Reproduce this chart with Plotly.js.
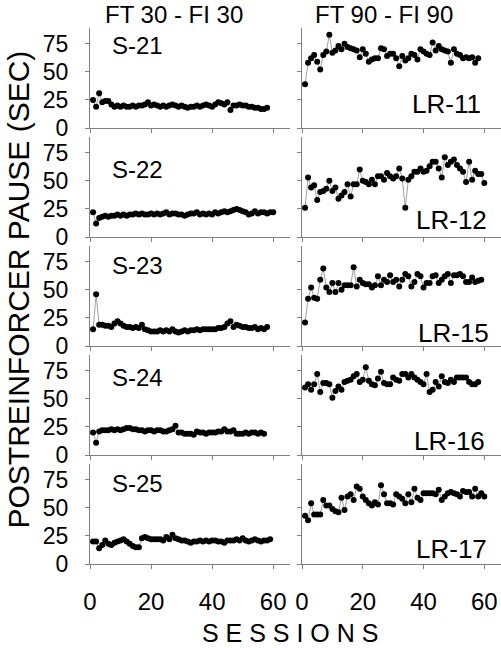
<!DOCTYPE html>
<html>
<head>
<meta charset="utf-8">
<script src="https://cdn.plot.ly/plotly-3.0.1.min.js"></script>
<style>
  html, body { margin: 0; padding: 0; background: #fff; }
  #chart { width: 501px; height: 648px; }
</style>
</head>
<body>
<div id="chart"></div>
<script>
// left column: FT 30 - FI 30
var s21 = [25,19,31,23,24,24,21,19,20,19, 20,19,19,20,19,20,20,21,23,20, 21,20,19,20,19,20,21,20,19,20, 19,18,19,19,20,19,20,21,20,19, 21,23,22,21,23,16,20,20,21,20, 20,19,19,18,18,17,17,18];
var s22 = [22,12,17,18,19,18,19,19,20,19, 20,19,20,20,21,20,21,20,20,21, 20,21,20,21,22,20,21,21,20,20, 19,20,21,21,22,20,21,20,21,20, 22,21,22,23,22,23,24,25,24,23, 22,20,21,23,21,22,22,21,22,22];
var s23 = [15,46,19,19,18,18,17,20,22,20, 18,17,17,16,17,16,19,15,14,13, 13,13,14,13,14,13,15,13,12,13, 14,13,14,14,15,14,15,15,15,15, 15,16,16,17,20,22,17,19,18,17, 17,16,16,17,15,16,15,17];
var s24 = [20,11,21,22,22,22,23,22,23,22, 23,24,24,23,23,22,22,21,22,22, 21,22,22,21,21,22,23,26,20,20, 19,19,19,18,21,20,20,19,20,20, 20,21,21,23,21,21,22,19,19,19, 20,19,20,20,19,20,19];
var s25 = [20,20,14,17,21,18,17,19,20,21, 22,20,18,16,15,15,23,24,23,22, 22,22,22,21,24,22,26,23,22,21, 21,20,19,20,20,21,20,21,20,21, 21,20,20,19,21,21,21,22,21,23, 21,20,21,22,21,20,21,21,22];

// right column: FT 90 - FI 90
var lr11 = [39,58,62,65,59,52,65,68,83,67, 69,73,70,75,72,71,70,69,63,70, 66,59,61,62,62,71,70,64,66,66, 62,55,64,60,62,66,65,61,70,68, 66,65,76,69,73,70,69,68,58,70, 66,65,62,63,62,63,58,62];
var lr12 = [26,53,44,46,33,40,41,43,50,41, 44,34,37,40,47,36,47,47,60,50, 49,47,51,47,54,54,51,57,54,52, 54,61,52,26,51,54,58,58,61,58, 59,63,67,67,61,53,71,64,67,69, 64,61,58,49,67,51,59,56,56,48];
var lr15 = [21,42,52,43,42,59,69,52,48,56, 48,56,50,54,54,54,70,53,59,56, 55,55,52,54,62,54,59,57,63,57, 59,53,59,64,62,53,57,64,62,52, 56,56,62,63,56,59,62,64,56,63, 63,64,62,57,57,61,57,58,59];
var lr16 = [60,63,58,63,72,56,64,64,63,51, 57,61,58,65,66,67,70,72,65,67, 78,66,63,62,68,74,64,63,63,69, 67,66,72,72,69,72,69,67,65,63, 72,56,58,65,61,70,65,64,67,65, 69,69,69,69,65,63,63,65];
var lr17 = [43,39,54,44,44,44,57,52,52,49, 47,46,59,48,60,62,57,69,67,60, 57,54,52,55,53,70,62,54,54,53, 62,60,58,54,62,55,67,59,57,63, 63,63,63,62,66,57,60,63,64,63, 62,60,65,64,64,60,67,60,63,60];

var leftNames = ['S-21', 'S-22', 'S-23', 'S-24', 'S-25'];
var rightNames = ['LR-11', 'LR-12', 'LR-15', 'LR-16', 'LR-17'];
var leftSeries = [s21, s22, s23, s24, s25];
var rightSeries = [lr11, lr12, lr15, lr16, lr17];
var columnTitles = ['FT 30 - FI 30', 'FT 90 - FI 90'];
var xTicks = [0, 20, 40, 60];
var yTicks = [0, 25, 50, 75];

// label placement (session, value) per panel
var leftLabelPos = [[6.6, 73], [6.6, 60], [6.6, 72], [6.6, 69], [6.6, 72]];
var rightLabelPos = [[59.5, 21], [61.6, 15], [62.2, 12], [61, 12.5], [61.6, 13.5]];

function sessions(arr) {
  var x = [];
  for (var i = 0; i < arr.length; i++) x.push(i + 1);
  return x;
}

var font = 'Liberation Sans, Arial, sans-serif';
var W = 501, H = 648;
var mL = 90, mR = 0, mT = 28, mB = 84;
var plotW = W - mL - mR, plotH = H - mT - mB;
var colDom = [[0, 200 / plotW], [212 / plotW, 1]];
function rowDom(r) {
  var top = 109 * r, bot = top + 100;
  return [(plotH - bot) / plotH, (plotH - top) / plotH];
}

var data = [];
var layout = {
  width: W, height: H,
  margin: {l: mL, r: mR, t: mT, b: mB},
  paper_bgcolor: '#fff', plot_bgcolor: '#fff',
  showlegend: false,
  font: {family: font, color: '#000'},
  annotations: []
};

for (var c = 0; c < 2; c++) {
  for (var r = 0; r < 5; r++) {
    var n = c * 5 + r + 1;
    var sfx = n === 1 ? '' : String(n);
    var ys = c === 0 ? leftSeries[r] : rightSeries[r];
    data.push({
      x: sessions(ys), y: ys,
      xaxis: 'x' + sfx, yaxis: 'y' + sfx,
      type: 'scatter', mode: 'lines+markers',
      line: {color: '#777', width: 0.7},
      marker: {color: '#000', size: 6},
      cliponaxis: false
    });
    layout['xaxis' + sfx] = {
      domain: colDom[c], anchor: 'y' + sfx,
      range: [0, 65.5], tickvals: xTicks,
      showticklabels: r === 4,
      ticks: 'outside', ticklen: 4, tickcolor: '#808080',
      ticklabelstandoff: 12,
      showline: true, linecolor: '#808080', linewidth: 1,
      showgrid: false, zeroline: false,
      tickfont: {family: font, size: 24, color: '#000'}
    };
    layout['yaxis' + sfx] = {
      domain: rowDom(r), anchor: 'x' + sfx,
      range: [0, 89], tickvals: yTicks,
      showticklabels: c === 0,
      ticks: 'outside', ticklen: 4, tickcolor: '#808080',
      ticklabelstandoff: 12,
      showline: true, linecolor: '#808080', linewidth: 1,
      showgrid: false, zeroline: false,
      tickfont: {family: font, size: 23, color: '#000'}
    };
    var pos = c === 0 ? leftLabelPos[r] : rightLabelPos[r];
    layout.annotations.push({
      text: c === 0 ? leftNames[r] : rightNames[r],
      xref: 'x' + sfx, yref: 'y' + sfx,
      x: pos[0], y: pos[1],
      xanchor: c === 0 ? 'left' : 'right', yanchor: 'middle',
      showarrow: false,
      font: {family: font, size: c === 0 ? 24 : 26, color: '#000'}
    });
  }
}

// column titles, hung from the top edge of the figure
var topY = 1 + mT / plotH;
layout.annotations.push({
  text: columnTitles[0], xref: 'paper', yref: 'paper',
  x: (174 - mL) / plotW, y: topY, yanchor: 'top', xanchor: 'center',
  borderpad: 0, showarrow: false, font: {family: font, size: 24}
});
layout.annotations.push({
  text: columnTitles[1], xref: 'paper', yref: 'paper',
  x: (384 - mL) / plotW, y: topY, yanchor: 'top', xanchor: 'center',
  borderpad: 0, showarrow: false, font: {family: font, size: 24}
});

// axis titles
layout.annotations.push({
  text: 'POSTREINFORCER PAUSE (SEC)', xref: 'paper', yref: 'paper',
  x: -mL / plotW, y: (564 - 290) / plotH,
  xanchor: 'left', yanchor: 'middle', textangle: -90,
  borderpad: 0, showarrow: false, font: {family: font, size: 30}
});
layout.annotations.push({
  text: 'S E S S I O N S', xref: 'paper', yref: 'paper',
  x: (290 - mL) / plotW, y: -mB / plotH,
  xanchor: 'center', yanchor: 'bottom', borderpad: 0,
  showarrow: false, font: {family: font, size: 25}
});

Plotly.newPlot('chart', data, layout, {displayModeBar: false, staticPlot: true});
</script>
</body>
</html>
